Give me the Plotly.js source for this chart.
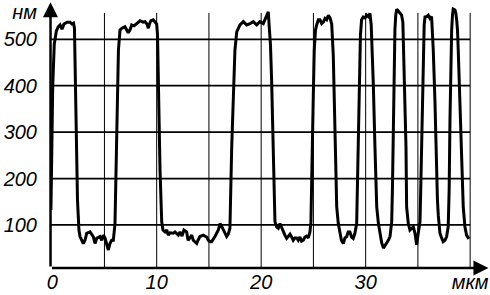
<!DOCTYPE html>
<html>
<head>
<meta charset="utf-8">
<script src="https://cdn.plot.ly/plotly-3.0.1.min.js"></script>
<style>html,body{margin:0;padding:0;background:#fff;}#chart{width:490px;height:295px;}</style>
</head>
<body>
<div id="chart"></div>
<script>
// profile: position (мкм) and height (нм)
const posX = [-0.12,-0.05,0.05,0.2,0.4,0.58,0.75,0.94,1.13,1.42,1.70,1.89,2.04,2.13,2.23,2.28,2.42,2.56,
2.66,2.98,3.14,3.30,3.62,3.93,4.10,4.26,4.57,4.74,4.89,5.05,5.22,5.37,5.53,5.69,5.85,6.01,
6.15,6.25,6.34,6.49,6.68,6.96,7.16,7.28,7.44,7.61,7.83,8.09,8.41,8.70,8.88,9.07,9.20,9.31,9.45,9.67,9.84,10.0,
10.08,10.17,10.32,10.48,10.60,10.80,10.96,11.11,11.27,11.59,11.75,12.07,12.23,12.42,12.61,12.87,13.0,13.19,13.35,13.50,13.83,13.96,14.14,14.46,14.78,14.94,15.10,15.26,15.58,15.90,16.06,16.20,16.37,16.53,16.70,16.85,17.01,
17.18,17.33,17.49,17.66,17.97,18.29,18.61,18.93,19.24,19.57,19.88,20.20,20.36,20.52,20.68,20.77,
20.89,21.0,21.16,21.25,21.32,21.48,21.64,21.80,21.96,22.11,22.27,22.44,22.59,22.76,22.92,23.07,23.23,23.40,23.55,23.71,23.87,24.03,24.19,24.35,24.51,24.67,24.76,
24.86,24.98,25.08,25.2,25.31,25.47,25.63,25.79,25.95,26.11,26.27,26.43,26.59,26.75,
26.9,27.06,27.16,27.23,27.38,27.54,27.68,27.86,28.02,28.18,28.33,28.49,28.65,28.81,28.97,29.14,
29.21,29.29,29.39,29.5,29.61,29.77,29.94,30.1,30.25,30.41,30.53,
30.6,30.73,30.89,31.06,31.22,31.38,31.54,31.7,31.86,32.02,32.17,32.33,32.49,
32.56,32.64,32.73,32.8,32.88,32.97,33.12,33.28,33.44,33.56,
33.63,33.76,33.86,33.92,34.08,34.24,34.4,34.56,34.72,34.88,35.04,35.2,
35.27,35.36,35.51,35.6,35.68,35.84,35.99,36.15,36.31,36.39,
36.47,36.63,36.72,36.87,36.95,37.11,37.27,37.42,37.59,37.75,37.9,
37.99,38.07,38.14,38.23,38.31,38.38,38.55,38.64,38.71,38.79,
38.86,39.02,39.19,39.34,39.5,39.66,39.88];
const heightY = [132,260,400,490,518,527,531,522,533,537,537,533,535,524,391,261,154,89,
75,60,67,82,85,75,60,71,75,67,78,72,60,46,60,67,67,103,
261,391,477,520,524,527,520,514,520,531,529,534,540,537,538,533,524,533,540,542,537,533,
509,369,218,107,89,85,89,78,83,82,85,78,85,76,89,85,67,72,78,67,60,67,75,78,74,67,64,64,75,89,103,98,91,83,75,80,93,
268,369,477,516,531,538,531,534,538,531,538,534,542,552,559,527,
488,412,261,175,107,96,93,103,93,85,78,71,76,80,74,67,72,72,67,74,65,67,74,76,72,85,106,
197,369,477,520,531,542,542,534,537,545,542,552,546,533,
466,298,218,139,103,82,67,60,72,75,85,85,74,71,82,103,
175,268,412,509,542,548,546,552,549,556,531,
498,405,268,139,103,76,61,50,55,60,67,75,106,
175,304,441,520,552,565,561,556,552,537,
477,369,268,139,103,89,93,96,82,57,83,107,
175,268,477,531,548,549,552,545,549,524,
477,369,268,154,121,82,72,64,67,75,96,
175,326,441,520,552,565,563,555,542,520,
477,369,268,139,96,78,70];

const xTickVals = [0,10,20,30,40];
const xTickText = ['0','10','20','30','мкм'];
const yTickVals = [100,200,300,400,500,558];
const yTickText = ['100','200','300','400','500','нм'];
const xGrid = [5,10,15,20,25,30,35,40];
const yGrid = [100,200,300,400,500];

const X_RANGE = [-0.21, 41.9];
const Y_RANGE = [7.2, 584.7];
const AXIS_X = -0.16;
const GRID_TOP = 557;
const GRID_RIGHT = 40;

const shapes = [];
xGrid.forEach(v => shapes.push({type:'line', xref:'x', yref:'y', x0:v, x1:v, y0:Y_RANGE[0], y1:GRID_TOP,
  line:{color:'#000', width:1}, layer:'below'}));
yGrid.forEach(v => shapes.push({type:'line', xref:'x', yref:'y', x0:AXIS_X, x1:GRID_RIGHT, y0:v, y1:v,
  line:{color:'#000', width:1.8}, layer:'below'}));

const annotations = [
  {x:41.75, y:Y_RANGE[0], ax:AXIS_X, ay:Y_RANGE[0], xref:'x', yref:'y', axref:'x', ayref:'y',
   text:'', showarrow:true, arrowhead:2, arrowsize:1.2, arrowwidth:2.5, arrowcolor:'#000', standoff:0},
  {x:AXIS_X, y:580, ax:AXIS_X, ay:Y_RANGE[0], xref:'x', yref:'y', axref:'x', ayref:'y',
   text:'', showarrow:true, arrowhead:2, arrowsize:1.2, arrowwidth:2.5, arrowcolor:'#000', standoff:0}
];

const tickFont = {family:'Liberation Sans', size:20, color:'#000', style:'italic'};

Plotly.newPlot('chart', [{
  x: posX, y: heightY, type:'scatter', mode:'lines',
  line:{color:'#000', width:3}, hoverinfo:'skip'
}], {
  width:490, height:295,
  margin:{l:50, r:0, t:0, b:27, pad:0},
  paper_bgcolor:'#fff', plot_bgcolor:'#fff',
  showlegend:false,
  xaxis:{range:X_RANGE, showgrid:false, zeroline:false, showline:false, ticks:'',
    tickmode:'array', tickvals:xTickVals, ticktext:xTickText, tickfont:tickFont, ticklabelstandoff:0},
  yaxis:{range:Y_RANGE, showgrid:false, zeroline:false, showline:false, ticks:'',
    tickmode:'array', tickvals:yTickVals, ticktext:yTickText, tickfont:tickFont, ticklabelstandoff:12},
  shapes: shapes,
  annotations: annotations
}, {staticPlot:true, displayModeBar:false});
</script>
</body>
</html>
